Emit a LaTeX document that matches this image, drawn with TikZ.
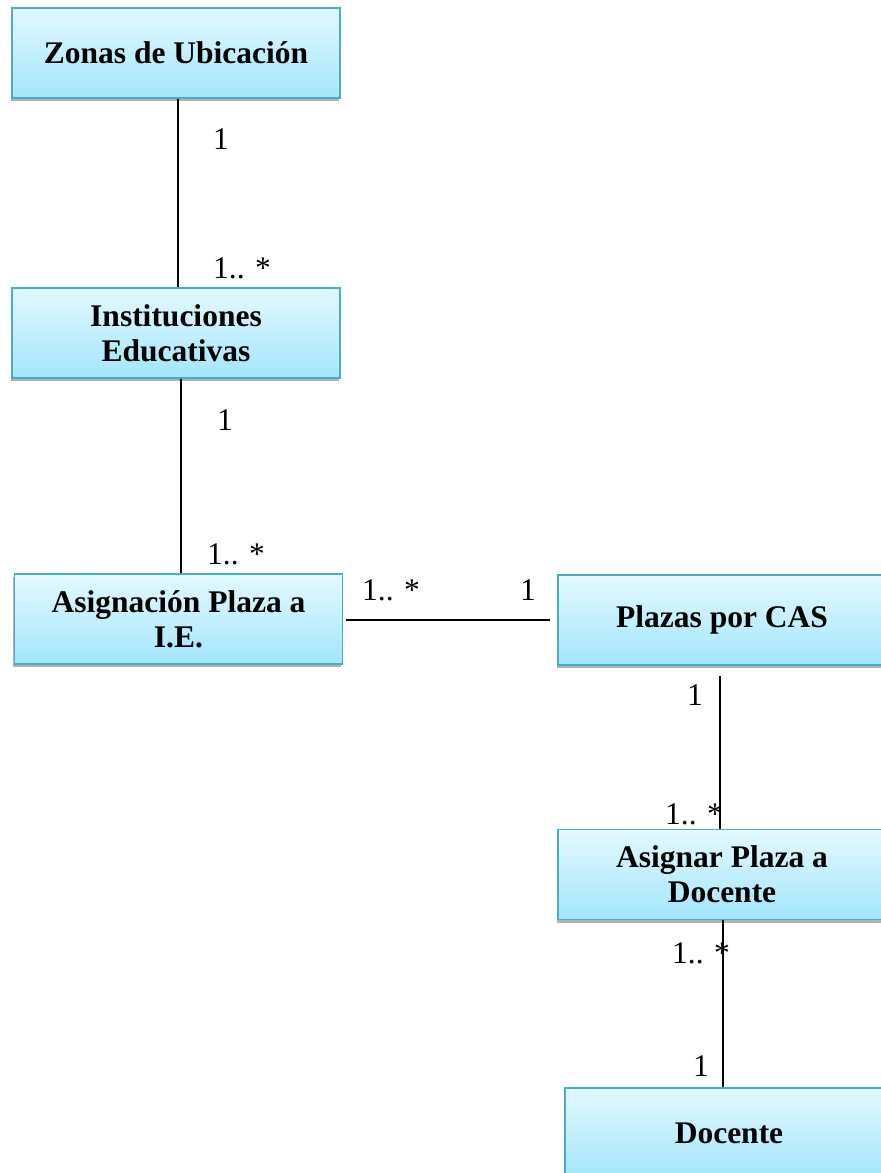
\documentclass[tikz,border=0pt]{standalone}
\usepackage{fontspec}
\setmainfont{Liberation Serif}
\usetikzlibrary{shadows,calc}
\definecolor{boxtop}{HTML}{E4F9FF}
\definecolor{boxbot}{HTML}{A2E6FB}
\definecolor{boxline}{HTML}{4BACC6}
\tikzset{
  entity/.style={draw=boxline, line width=1.6pt, top color=boxtop, bottom color=boxbot,
    minimum width=328pt, minimum height=90pt, inner sep=0pt, align=center,
    font=\fontsize{31.5}{35}\selectfont\bfseries,
    drop shadow={shadow xshift=-1.5pt, shadow yshift=-3pt, opacity=0.5, fill=black!60}},
  link/.style={line width=1.8pt, black},
  mult/.style={inner sep=0pt, font=\fontsize{31.5}{35}\selectfont},
}
\begin{document}
\begin{tikzpicture}[x=1pt, y=-1pt]
\path[use as bounding box, clip] (0,0) rectangle (881,1173);

% classes
\node[entity] (zonas) at (176,53) {\raisebox{-3pt}{Zonas de Ubicación}};
\node[entity] (inst)  at (176,333) {Instituciones\\Educativas};
\node[entity] (asie)  at (178.5,619) {Asignación Plaza a\\I.E.};
\node[entity] (plaza) at (722,620) {\raisebox{-3pt}{Plazas por CAS}};
\node[entity] (asdoc) at (722,874.5) {Asignar Plaza a\\Docente};
\node[entity] (doc)   at (729,1133) {Docente};

% associations
\draw[link] ($(zonas.south)+(2,0)$) -- ($(inst.north)+(2,0)$);
\draw[link] ($(inst.south)+(5,0)$) -- ($(asie.north)+(2.5,0)$);
\draw[link] ($(asie.east)+(3,1)$) -- ($(plaza.west)+(-7,0)$);
\coordinate (pb) at ($(plaza.south)+(-2,10)$);
\draw[link] (pb) -- (pb |- asdoc.north);
\draw[link] ($(asdoc.south)+(1,0)$) -- (doc.north -| 723,0);

% multiplicities
\node[mult, anchor=base west] (m1) at (213,149) {1};
\node[mult, anchor=base west] (m2) at (213,278) {1.. *};
\node[mult, anchor=base west] (m3) at (217,430) {1};
\node[mult, anchor=base west] (m4) at (207,564) {1.. *};
\node[mult, anchor=base west] (m5) at (362,600) {1.. *};
\node[mult, anchor=base west] (m6) at (520,600) {1};
\node[mult, anchor=base west] (m7) at (687,705) {1};
\node[mult, anchor=base west] (m8) at (665,824) {1.. *};
\node[mult, anchor=base west] (m9) at (672,963) {1.. *};
\node[mult, anchor=base west] (m10) at (693,1076) {1};
\end{tikzpicture}
\end{document}
